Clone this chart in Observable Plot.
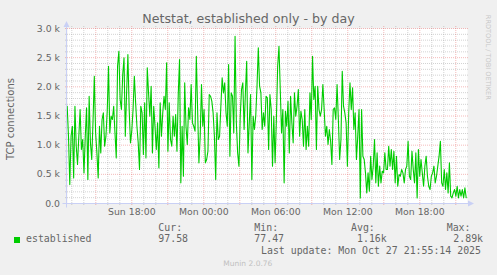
<!DOCTYPE html>
<html><head><meta charset="utf-8">
<script src="https://cdn.jsdelivr.net/npm/d3@7"></script>
<script src="https://cdn.jsdelivr.net/npm/@observablehq/plot@0.6"></script>
<style>
html,body{margin:0;padding:0;background:#f0f0f0;}
#wrap{position:relative;width:497px;height:275px;overflow:hidden;background:#f0f0f0;}
#wrap svg{position:absolute;left:0;top:0;}
.t{position:absolute;line-height:1;white-space:pre;color:#666;}
.sans{font-family:"DejaVu Sans",sans-serif;}
.mono{font-family:"DejaVu Sans Mono",monospace;}
</style></head><body><div id="wrap"></div>
<script>
// --- data (TCP established connections) ---
const seg1 = [1668,1154,326,1154,1325,439,1668,982,668,1154,1611,926,1097,525,1154,1639,411,1839,1040,754,1411,2182,1211,868,439,1325,868,1440,1554,982,1154,1582,2354,1211,1497,1440,1668,1211,782,2354,2611,1782,1611,2211,2496,1154,1896,2554,1611,1040,1240,1611,2182,1725,1325,1040,582,1668,1554,840];
const seg2 = [1725,782,2325,1896,1497,2011,868,1668,1325,926,1382,611,1725,1154,1554,1839,1611,2411,897,1725,1097,982,1497,1154,1525,897,1868,2468,354,1325,468,2068,1325,1011,1639,1440,2039,1382,1325,1240,2525,1611,697,1154,2039,1325,1611,697,754,897,1868,1839,1754,1554,1154,411,1554,1097,1154,1668,2154,1896,2068];
const seg3 = [1554,1325,2382,811,1896,1839,1211,2868,1382,868,640,1497,1954,2068,1268,1896,2439,868,1382,1868,411,1497,1268,1497,2011,2668,2011,1896,1268,1554,1325,1839,1811,926,1868,1611,640,1497,697,1440,2354,2696,1954,1211,1611,354,1582,1325,1754,868,1839,1382,1040,1896,1497,1668,1954,1154,1582,1440,982,1611,926];
const seg4 = [1325,982,1896,1440,2525,1782,2011,926,2011,1611,1497,1611,2039,1611,1154,1325,1011,1268,1068,668,1611,1639,1440,2039,1440,754,1097,2268,1668,1554,1382,640,1554,2068,1611,1982,1268,1554,754,1154,1611,96,1611,811,754,525,182,525,211,811,411,640,1097,354,868,296,640,354,554,525,868,582];
const seg5 = [582,982,640,926,582,897,354,811,296,497,468,582,525,354,582,640,1068,468,411,897,582,354,868,96,926,468,754,525,296,640,811,468,296,239,468,525,640,354,468,640,811,1068,354,296,582,239,525,182,697,125,96,182,239,125,296,96,239,125,239,96,268,98];
const dataStart = "2025-10-26T12:37:00Z";
const dataEnd = "2025-10-27T21:52:00Z";
const xDomain = ["2025-10-26T12:38:30Z", "2025-10-27T21:58:30Z"];
const xTickTimes = ["2025-10-26T18:00:00Z","2025-10-27T00:00:00Z","2025-10-27T06:00:00Z","2025-10-27T12:00:00Z","2025-10-27T18:00:00Z"];
const xTickLabels = ["Sun 18:00","Mon 00:00","Mon 06:00","Mon 12:00","Mon 18:00"];
const yTicks = [0,500,1000,1500,2000,2500,3000];
const yTickLabels = ["0.0","0.5 k","1.0 k","1.5 k","2.0 k","2.5 k","3.0 k"];
const title = "Netstat, established only - by day";
const yLabel = "TCP connections";
const seriesName = "established";
const statNames = ["Cur:","Min:","Avg:","Max:"];
const statValues = ["97.58","77.47","1.16k","2.89k"];
const lastUpdate = "Last update: Mon Oct 27 21:55:14 2025";
const footer = "Munin 2.0.76";
const watermark = "RRDTOOL / TOBI OETIKER";

// --- build ---
const values = [...seg1, ...seg2, ...seg3, ...seg4, ...seg5];
const t0 = new Date(dataStart).getTime(), t1 = new Date(dataEnd).getTime();
const data = values.map((v, i) => ({t: new Date(t0 + i * (t1 - t0) / (values.length - 1)), v}));
const dom = xDomain.map(d => new Date(d));
const hours = d3.utcHour.range(dom[0], dom[1]);
const xMajor = hours.filter(d => d.getUTCHours() % 3 === 0);
const xMinor = hours.filter(d => d.getUTCHours() % 3 !== 0);
const yMajor = yTicks.filter(d => d > 0);
const yMinor = d3.range(100, 3001, 100).filter(d => d % 500 !== 0);
const xTicks = xTickTimes.map(d => new Date(d));

const AXIS = "#c9d0f5";
const GRID = "rgba(150,150,150,0.42)";
const MGRID = "rgba(228,90,90,0.42)";

function axisLines(index, scales, vals, dim) {
  const g = d3.create("svg:g");
  const x0 = dim.marginLeft - 0.5, x1 = dim.width - dim.marginRight;
  const y0 = dim.height - dim.marginBottom + 0.5, yT = dim.marginTop;
  g.append("line").attr("x1", x0 - 4).attr("x2", x1 + 2).attr("y1", y0).attr("y2", y0).attr("stroke", AXIS);
  g.append("path").attr("d", `M${x1+1},${y0-3}L${x1+7},${y0}L${x1+1},${y0+3}Z`).attr("fill", AXIS);
  g.append("line").attr("x1", x0).attr("x2", x0).attr("y1", y0 + 4).attr("y2", yT - 2).attr("stroke", AXIS);
  g.append("path").attr("d", `M${x0-3},${yT-1}L${x0},${yT-7}L${x0+3},${yT-1}Z`).attr("fill", AXIS);
  return g.node();
}

const chart = Plot.plot({
  width: 497, height: 275,
  marginLeft: 67, marginRight: 30, marginTop: 28, marginBottom: 72,
  style: {background: "transparent", fontFamily: "DejaVu Sans", color: "#666"},
  x: {type: "utc", domain: dom},
  y: {domain: [0, 3000]},
  marks: [
    Plot.frame({fill: "white", stroke: "none"}),
    Plot.ruleY(yMinor, {stroke: GRID, strokeDasharray: "1,1", insetLeft: -2, insetRight: -2}),
    Plot.ruleX(xMinor, {stroke: GRID, strokeDasharray: "1,1", insetTop: -2, insetBottom: -2}),
    Plot.ruleY(yMajor, {stroke: MGRID, strokeDasharray: "1,1", insetLeft: -2, insetRight: -2}),
    Plot.ruleX(xMajor, {stroke: MGRID, strokeDasharray: "1,1", insetTop: -2, insetBottom: -2}),
    Plot.line(data, {x: "t", y: "v", stroke: "#00cc00", strokeWidth: 1.1}),
    Plot.axisY(yTicks, {tickSize: 0, tickPadding: 7.5, fontSize: 9.33, fill: "#666", label: null,
      tickFormat: d => yTickLabels[yTicks.indexOf(d)]}),
    Plot.axisX(xTicks, {tickSize: 0, tickPadding: 5, fontSize: 9.33, fill: "#666", label: null,
      tickFormat: d => xTickLabels[xTicks.findIndex(e => +e === +d)]}),
    axisLines
  ]
});
const wrap = document.getElementById("wrap");
wrap.appendChild(chart);

function txt(s, cls, left, baseline, fs, extra = {}) {
  const d = document.createElement("div");
  d.className = "t " + cls;
  d.textContent = s;
  d.style.fontSize = fs + "px";
  d.style.left = left + "px";
  d.style.top = (baseline - 0.846 * fs) + "px";
  Object.assign(d.style, extra);
  wrap.appendChild(d);
  return d;
}
// title
txt(title, "sans", 0, 24, 12.6, {width: "497px", textAlign: "center"});
// y label (rotated)
txt(yLabel, "sans", 11.3 - 60, 119 + 3.5, 10, {width: "120px", textAlign: "center", transform: "rotate(-90deg)", transformOrigin: "60px 5px"});
// watermark
txt(watermark, "sans", 487.5 - 50, 57.5 + 2.3, 6.6, {width: "100px", textAlign: "center", color: "#c8c8c8", transform: "rotate(90deg)", transformOrigin: "50px 3.3px"});
// legend
const sq = document.createElement("div");
Object.assign(sq.style, {position: "absolute", left: "14px", top: "237px", width: "6px", height: "6px", background: "#00cc00"});
wrap.appendChild(sq);
txt(seriesName, "mono", 26, 242.7, 9.9);
const statX = [158.3, 254.3, 351, 446.7];
const valX = [158.3, 254.3, 357, 453.3];
statNames.forEach((s, i) => txt(s, "mono", statX[i], 231.3, 9.9));
statValues.forEach((s, i) => txt(s, "mono", valX[i], 242.7, 9.9));
txt(lastUpdate, "mono", 261, 254.3, 9.9);
txt(footer, "sans", 223.3, 266.7, 7.5, {color: "#c0c0c0"});
</script>
</body></html>
